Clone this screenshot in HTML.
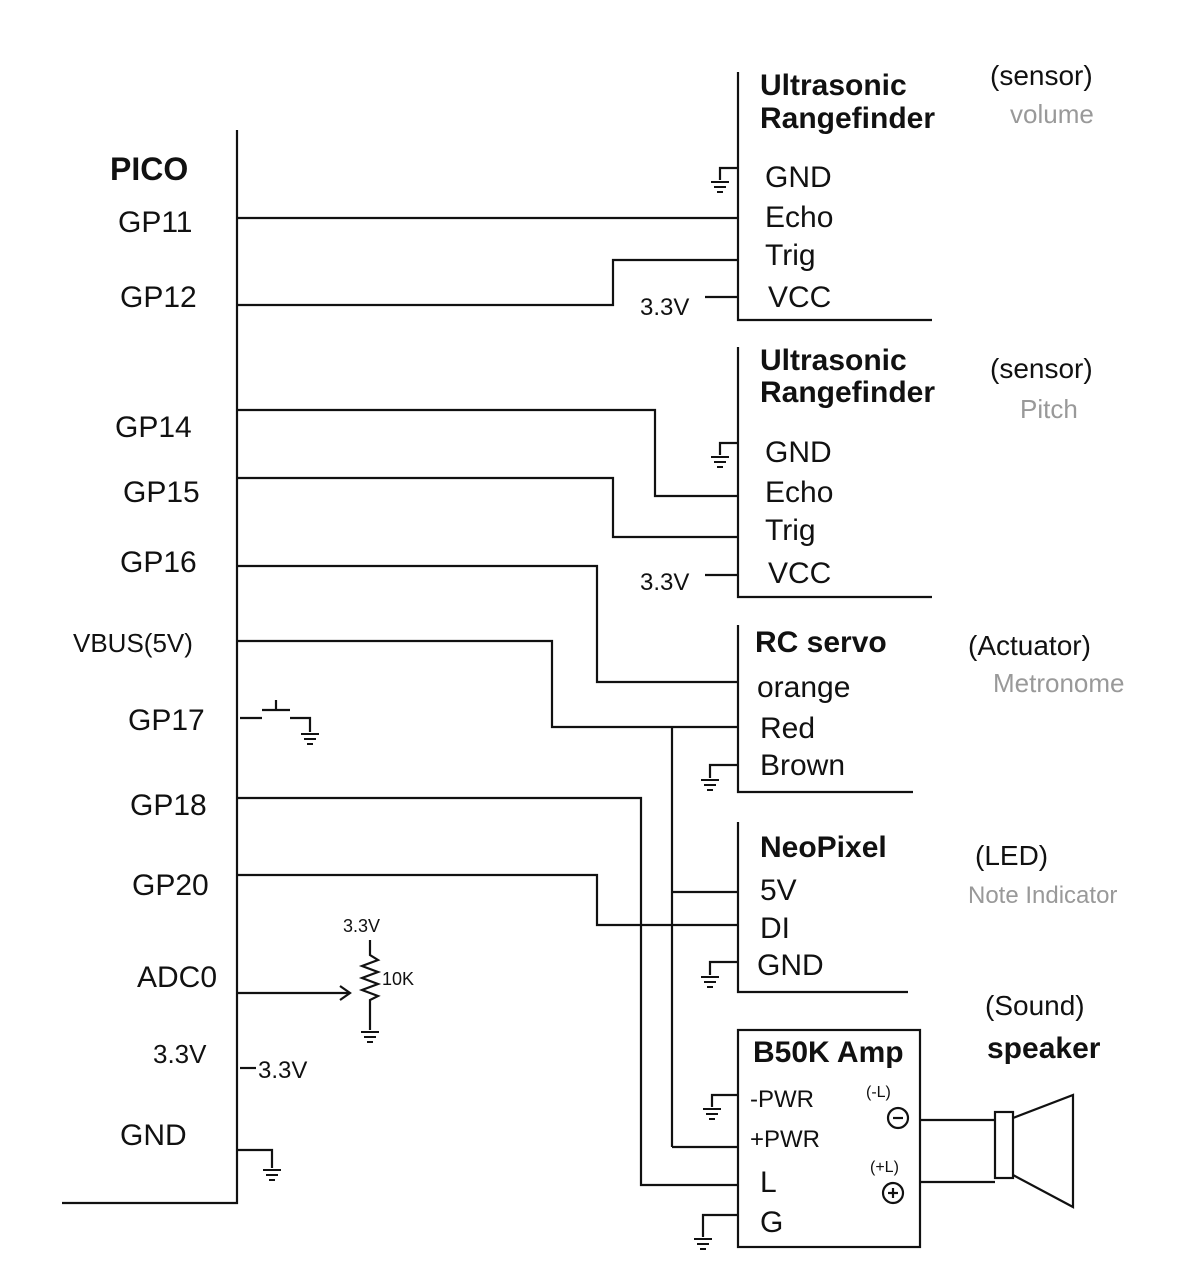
<!DOCTYPE html>
<html><head><meta charset="utf-8"><style>
html,body{margin:0;padding:0;background:#fff;}
svg text{font-family:"Liberation Sans",sans-serif;fill:#111;}
.b{font-weight:bold;}
.g{fill:#999 !important;}
</style></head><body>
<svg width="1199" height="1281" viewBox="0 0 1199 1281" xmlns="http://www.w3.org/2000/svg">
<defs>
<g id="gnd" stroke="#111" stroke-width="2" fill="none">
<line x1="-9" y1="0" x2="9" y2="0"/><line x1="-6" y1="5" x2="6" y2="5"/><line x1="-3" y1="10" x2="3" y2="10"/>
</g>
</defs>
<g stroke="#111" stroke-width="2.2" fill="none">
<!-- pico -->
<polyline points="237,130 237,1203 62,1203"/>
<!-- sensor1 -->
<polyline points="738,72 738,320 932,320"/>
<line x1="237" y1="218" x2="738" y2="218"/>
<polyline points="237,305 613,305 613,260 738,260"/>
<line x1="705" y1="297" x2="738" y2="297"/>
<polyline points="738,168 720,168 720,180"/>
<!-- sensor2 -->
<polyline points="738,347 738,597 932,597"/>
<polyline points="237,410 655,410 655,496 738,496"/>
<polyline points="237,478 613,478 613,537 738,537"/>
<line x1="705" y1="575" x2="738" y2="575"/>
<polyline points="738,443 720,443 720,455"/>
<!-- servo -->
<polyline points="738,625 738,792 913,792"/>
<polyline points="237,566 597,566 597,682 738,682"/>
<polyline points="237,641 552,641 552,727 738,727"/>
<line x1="672" y1="727" x2="672" y2="1147"/>
<line x1="672" y1="892" x2="738" y2="892"/>
<line x1="672" y1="1147" x2="738" y2="1147"/>
<polyline points="738,765 710,765 710,778"/>
<!-- neopixel -->
<polyline points="738,822 738,992 908,992"/>
<polyline points="237,798 641,798 641,1185 738,1185"/>
<polyline points="237,875 597,875 597,925 738,925"/>
<polyline points="738,962 710,962 710,975"/>
<!-- amp -->
<rect x="738" y="1030" width="182" height="217"/>
<polyline points="738,1095 712,1095 712,1107"/>
<polyline points="738,1215 703,1215 703,1237"/>
<circle cx="898" cy="1118" r="10"/><line x1="893" y1="1118" x2="903" y2="1118"/>
<circle cx="893" cy="1193" r="10"/><line x1="888" y1="1193" x2="898" y2="1193"/><line x1="893" y1="1188" x2="893" y2="1198"/>
<line x1="920" y1="1120" x2="995" y2="1120"/>
<line x1="920" y1="1182" x2="995" y2="1182"/>
<rect x="995" y="1112" width="18" height="66"/>
<polyline points="1013,1118 1073,1095 1073,1207 1013,1175"/>
<!-- GP17 switch -->
<polyline points="240,718 262,718"/>
<line x1="262" y1="710" x2="290" y2="710"/>
<line x1="276" y1="700" x2="276" y2="710"/>
<polyline points="290,718 310,718 310,732"/>
<!-- ADC -->
<line x1="237" y1="993" x2="350" y2="993"/>
<polyline points="340,986 350,993 340,1000"/>
<polyline points="370,940 370,955 378,960 362,966 378,972 362,978 378,984 362,990 378,996 370,1000 370,1030"/>
<!-- 3.3 -->
<line x1="240" y1="1068" x2="256" y2="1068"/>
<!-- pico gnd -->
<polyline points="237,1150 272,1150 272,1168"/>
</g>
<use href="#gnd" x="720" y="182"/>
<use href="#gnd" x="720" y="457"/>
<use href="#gnd" x="710" y="780"/>
<use href="#gnd" x="710" y="977"/>
<use href="#gnd" x="712" y="1109"/>
<use href="#gnd" x="703" y="1239"/>
<use href="#gnd" x="310" y="734"/>
<use href="#gnd" x="370" y="1032"/>
<use href="#gnd" x="272" y="1170"/>

<g font-size="30">
<text x="110" y="180" class="b" font-size="32">PICO</text>
<text x="118" y="232">GP11</text>
<text x="120" y="307">GP12</text>
<text x="115" y="437">GP14</text>
<text x="123" y="502">GP15</text>
<text x="120" y="572">GP16</text>
<text x="73" y="652" font-size="26">VBUS(5V)</text>
<text x="128" y="730">GP17</text>
<text x="130" y="815">GP18</text>
<text x="132" y="895">GP20</text>
<text x="137" y="987">ADC0</text>
<text x="153" y="1063" font-size="26">3.3V</text>
<text x="120" y="1145">GND</text>
<text x="258" y="1078" font-size="24">3.3V</text>
<text x="343" y="932" font-size="18">3.3V</text>
<text x="382" y="985" font-size="18">10K</text>
</g>
<g font-size="30">
<text x="760" y="95" class="b" font-size="30">Ultrasonic</text>
<text x="760" y="128" class="b" font-size="30">Rangefinder</text>
<text x="765" y="187">GND</text><text x="765" y="227">Echo</text><text x="765" y="265">Trig</text><text x="768" y="307">VCC</text>
<text x="640" y="315" font-size="24">3.3V</text>
<text x="990" y="85" font-size="28">(sensor)</text>
<text x="1010" y="123" font-size="26" class="g">volume</text>

<text x="760" y="370" class="b">Ultrasonic</text>
<text x="760" y="402" class="b">Rangefinder</text>
<text x="765" y="462">GND</text><text x="765" y="502">Echo</text><text x="765" y="540">Trig</text><text x="768" y="583">VCC</text>
<text x="640" y="590" font-size="24">3.3V</text>
<text x="990" y="378" font-size="28">(sensor)</text>
<text x="1020" y="418" font-size="26" class="g">Pitch</text>

<text x="755" y="652" class="b">RC servo</text>
<text x="757" y="697">orange</text><text x="760" y="738">Red</text><text x="760" y="775">Brown</text>
<text x="968" y="655" font-size="28">(Actuator)</text>
<text x="993" y="692" font-size="26" class="g">Metronome</text>

<text x="760" y="857" class="b">NeoPixel</text>
<text x="760" y="900">5V</text><text x="760" y="938">DI</text><text x="757" y="975">GND</text>
<text x="975" y="865" font-size="28">(LED)</text>
<text x="968" y="903" font-size="24" class="g">Note Indicator</text>

<text x="753" y="1062" class="b">B50K Amp</text>
<text x="750" y="1107" font-size="24">-PWR</text>
<text x="750" y="1147" font-size="24">+PWR</text>
<text x="760" y="1192">L</text><text x="760" y="1232">G</text>
<text x="866" y="1097" font-size="16">(-L)</text>
<text x="870" y="1172" font-size="16">(+L)</text>
<text x="985" y="1015" font-size="28">(Sound)</text>
<text x="987" y="1058" class="b" font-size="30">speaker</text>
</g>
</svg>
</body></html>
